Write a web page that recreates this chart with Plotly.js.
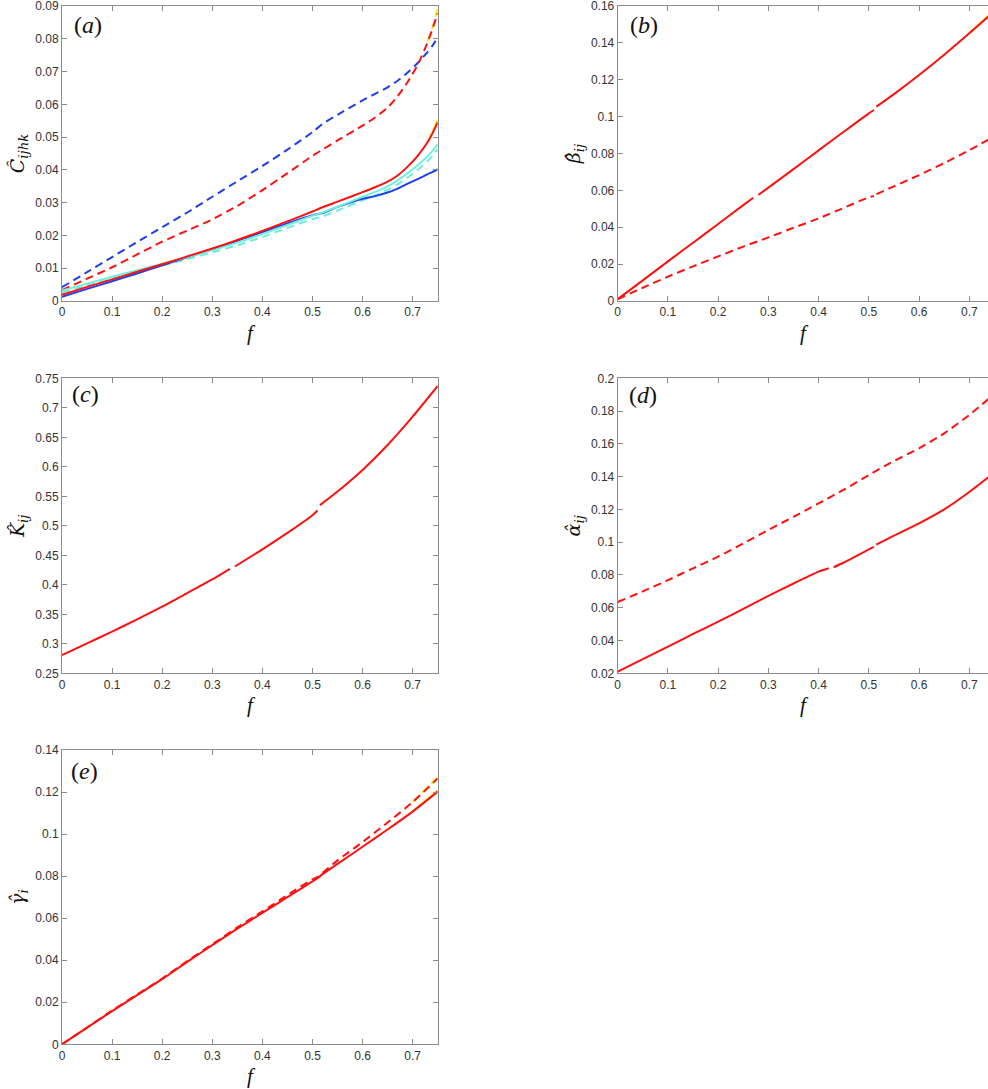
<!DOCTYPE html>
<html><head><meta charset="utf-8">
<script src="https://cdn.plot.ly/plotly-3.0.1.min.js"></script>
<style>html,body{margin:0;padding:0;background:#fff;overflow:hidden}</style>
</head><body><div id="chart" style="width:988px;height:1089px"></div>
<script>
// ---------- data ----------
const xTickVals = [0,0.1,0.2,0.3,0.4,0.5,0.6,0.7];
const xTickText = ['0','0.1','0.2','0.3','0.4','0.5','0.6','0.7'];

// panel (a)
const fA = [0,.05,.1,.15,.2,.25,.3,.35,.4,.45,.5,.52,.55,.6,.625,.65,.67,.69,.71,.73,.74,.75];
const blueDashA = [.0042,.0088,.0134,.0180,.0225,.0270,.0318,.0365,.0412,.0462,.0515,.0540,.0568,.0612,.0632,.0652,.0672,.0697,.0726,.0760,.0780,.0803];
const redDashA  = [.0033,.0068,.0103,.0142,.0181,.0215,.0249,.0290,.0338,.0390,.0443,.0462,.0490,.0535,.0560,.0590,.0625,.0668,.0720,.0790,.0832,.0878];
const cyanDashA = [.0026,.0047,.0068,.0088,.0108,.0128,.0148,.0170,.0195,.0223,.0250,.0258,.0276,.0307,.0322,.0339,.0356,.0377,.0400,.0427,.0444,.0463];
const blueSolidA= [.0013,.0037,.0060,.0084,.0109,.0133,.0158,.0184,.0210,.0237,.0262,.0268,.0287,.0312,.0320,.0331,.0343,.0358,.0372,.0387,.0394,.0402];
const cyanSolidA= [.0032,.0053,.0074,.0094,.0114,.0134,.0155,.0178,.0204,.0232,.0260,.0270,.0287,.0318,.0333,.0350,.0368,.0390,.0414,.0442,.0459,.0478];
const redSolidA = [.0019,.0043,.0066,.0089,.0112,.0136,.0160,.0186,.0214,.0243,.0273,.0286,.0303,.0332,.0347,.0364,.0383,.0410,.0443,.0485,.0513,.0545];
const fTipA = [.73,.74,.75];
const yellowSolidA = [.0487,.0516,.0553];
const yellowDashA  = [.0793,.0837,.0892];
const yTickA = [0,.01,.02,.03,.04,.05,.06,.07,.08,.09];
const yTextA = ['0','0.01','0.02','0.03','0.04','0.05','0.06','0.07','0.08','0.09'];

// panel (b)
const fBs = [0,.05,.1,.15,.2,.25,.27,.275,.28,.3,.35,.4,.45,.5,.51,.5125,.515,.55,.6,.65,.7,.75];
const redSolidB = [.001,.0112,.0215,.0316,.0418,.0520,.0560,null,.0575,.0615,.0715,.0817,.0918,.1018,.1036,null,.1054,.1122,.1226,.1336,.1452,.1572];
const fBd = [0,.05,.1,.15,.2,.25,.3,.35,.4,.45,.5,.51,.5125,.515,.55,.6,.65,.7,.75];
const redDashB = [.001,.0072,.0132,.0188,.0242,.0295,.0345,.0397,.0448,.0505,.0563,.0570,null,.0580,.0622,.0683,.0748,.0818,.0893];
const fTipB = [.7,.75];
const yellowSolidB = [.1454,.1577];
const yTickB = [0,.02,.04,.06,.08,.1,.12,.14,.16];
const yTextB = ['0','0.02','0.04','0.06','0.08','0.1','0.12','0.14','0.16'];

// panel (c)
const fC = [0,.05,.1,.15,.2,.25,.3,.335,.34,.345,.4,.45,.5,.51,.5125,.515,.55,.6,.65,.7,.75];
const redC = [.281,.3008,.3206,.3415,.363,.386,.409,.427,null,.431,.460,.488,.518,.526,null,.535,.558,.5946,.637,.685,.737];
const yTickC = [.25,.3,.35,.4,.45,.5,.55,.6,.65,.7,.75];
const yTextC = ['0.25','0.3','0.35','0.4','0.45','0.5','0.55','0.6','0.65','0.7','0.75'];

// panel (d)
const fDs = [0,.05,.1,.15,.2,.25,.3,.35,.4,.42,.425,.43,.45,.5,.51,.5125,.515,.55,.6,.65,.7,.75];
const redSolidD = [.021,.0287,.0363,.0440,.0515,.0593,.0672,.0748,.0820,.0841,null,.0847,.0876,.0956,.0972,null,.0985,.1040,.1115,.1200,.1306,.1425];
const fDd = [0,.05,.1,.13,.15,.2,.25,.3,.35,.4,.45,.5,.55,.6,.65,.7,.75];
const redDashD = [.0635,.0700,.0768,.0812,.0840,.0912,.0992,.1075,.1155,.1237,.1320,.1410,.1495,.1573,.1664,.1776,.1905];
const yTickD = [.02,.04,.06,.08,.1,.12,.14,.16,.18,.2];
const yTextD = ['0.02','0.04','0.06','0.08','0.1','0.12','0.14','0.16','0.18','0.2'];

// panel (e)
const fE = [0,.05,.1,.15,.2,.25,.3,.35,.4,.45,.5,.51,.515,.55,.6,.65,.7,.75];
const redSolidE = [0,.0079,.0158,.0234,.0310,.0392,.0472,.0550,.0625,.0700,.0775,.0790,.0800,.0858,.0940,.1022,.1107,.1202];
const redDashE  = [0,.0080,.0161,.0237,.0313,.0396,.0476,.0556,.0632,.0710,.0785,.0795,.0805,.0875,.0962,.1055,.1152,.1265];
const fTipE = [.7,.75];
const yellowSolidE = [.1109,.1207];
const yellowDashE  = [.1154,.1270];
const yTickE = [0,.02,.04,.06,.08,.1,.12,.14];
const yTextE = ['0','0.02','0.04','0.06','0.08','0.1','0.12','0.14'];

// ---------- styling ----------
const W = 988, H = 1089;
const RED = '#ff1010', BLUE = '#1f3fee', CYAN = '#70f0dc', YEL = '#f4ec00';
const DASH = '8px,5px';
const LW = 2;

function tr(x, y, color, dash, xa, ya) {
  return {x: x, y: y, type: 'scatter', mode: 'lines', xaxis: xa, yaxis: ya,
    line: {color: color, width: LW, dash: dash ? DASH : 'solid', shape: 'spline', smoothing: 0.6},
    connectgaps: false, hoverinfo: 'skip', showlegend: false};
}

const data = [
  tr(fA, blueDashA, BLUE, true, 'x', 'y'),
  tr(fTipA, yellowDashA, YEL, true, 'x', 'y'),
  tr(fA, redDashA, RED, true, 'x', 'y'),
  tr(fA, cyanDashA, CYAN, true, 'x', 'y'),
  tr(fA, blueSolidA, BLUE, false, 'x', 'y'),
  tr(fA, cyanSolidA, CYAN, false, 'x', 'y'),
  tr(fTipA, yellowSolidA, YEL, false, 'x', 'y'),
  tr(fA, redSolidA, RED, false, 'x', 'y'),

  tr(fTipB, yellowSolidB, YEL, false, 'x2', 'y2'),
  tr(fBs, redSolidB, RED, false, 'x2', 'y2'),
  tr(fBd, redDashB, RED, true, 'x2', 'y2'),

  tr(fC, redC, RED, false, 'x3', 'y3'),

  tr(fDs, redSolidD, RED, false, 'x4', 'y4'),
  tr(fDd, redDashD, RED, true, 'x4', 'y4'),

  tr(fTipE, yellowSolidE, YEL, false, 'x5', 'y5'),
  tr(fTipE, yellowDashE, YEL, true, 'x5', 'y5'),
  tr(fE, redSolidE, RED, false, 'x5', 'y5'),
  tr(fE, redDashE, RED, true, 'x5', 'y5')
];

const AXC = '#8c8c8c';
const tickFont = {family: 'Liberation Sans, Arial, sans-serif', size: 12, color: '#333'};
const titleFont = {family: 'DejaVu Serif, serif', size: 19, color: '#111'};

function xax(domain, range, anchor, mirror) {
  return {domain: domain, range: range, anchor: anchor,
    tickmode: 'array', tickvals: xTickVals, ticktext: xTickText,
    ticks: 'inside', ticklen: 5, tickcolor: AXC, tickwidth: 1,
    showline: true, linecolor: AXC, linewidth: 1, mirror: mirror,
    zeroline: false, showgrid: false, tickfont: tickFont, fixedrange: true,
    ticklabeloverflow: 'allow',
    title: {text: '<i>f</i>', font: {family: 'Liberation Serif, Times New Roman, serif', size: 21, color: '#111'}, standoff: 6}};
}
function yax(domain, range, anchor, vals, text, title, mirror) {
  return {domain: domain, range: range, anchor: anchor,
    tickmode: 'array', tickvals: vals, ticktext: text,
    ticks: 'inside', ticklen: 5, tickcolor: AXC, tickwidth: 1,
    showline: true, linecolor: AXC, linewidth: 1, mirror: mirror,
    zeroline: false, showgrid: false, tickfont: tickFont, fixedrange: true,
    ticklabeloverflow: 'allow',
    title: {text: title, font: titleFont, standoff: 5}};
}

const xL = [62/W, 437.7/W];
const xR = [617.7/W, 1];
const r1 = [1-301/H, 1-6/H];
const r2 = [1-673.3/H, 1-378.3/H];
const r3 = [1-1044.3/H, 1-750/H];
const RX = [0, 0.7372];

function lab(t, px, py) {
  return {text: '(<i>' + t + '</i>)', xref: 'paper', yref: 'paper', x: px/W, y: 1-py/H,
    xanchor: 'left', yanchor: 'middle', showarrow: false,
    font: {family: 'Liberation Serif, Times New Roman, serif', size: 24, color: '#111'}};
}

const layout = {
  width: W, height: H, margin: {l: 0, r: 0, t: 0, b: 0},
  paper_bgcolor: '#fff', plot_bgcolor: '#fff', showlegend: false,
  xaxis:  xax(xL, [0, 0.75], 'y', 'ticks'),
  yaxis:  yax(r1, [0, 0.09], 'x', yTickA, yTextA, '<i>Ĉ<sub>ijhk</sub></i>', 'ticks'),
  xaxis2: xax(xR, RX, 'y2', 'ticks'),
  yaxis2: yax(r1, [0, 0.16], 'x2', yTickB, yTextB, '<i>β̂<sub>ij</sub></i>', false),
  xaxis3: xax(xL, [0, 0.75], 'y3', 'ticks'),
  yaxis3: yax(r2, [0.25, 0.75], 'x3', yTickC, yTextC, '<i>K̂<sub>ij</sub></i>', 'ticks'),
  xaxis4: xax(xR, RX, 'y4', 'ticks'),
  yaxis4: yax(r2, [0.02, 0.2], 'x4', yTickD, yTextD, '<i>α̂<sub>ij</sub></i>', false),
  xaxis5: xax(xL, [0, 0.75], 'y5', 'ticks'),
  yaxis5: yax(r3, [0, 0.14], 'x5', yTickE, yTextE, '<i>γ̂<sub>i</sub></i>', 'ticks'),
  annotations: [
    lab('a', 72, 25), lab('b', 628, 25),
    lab('c', 70, 394), lab('d', 627, 395),
    lab('e', 69, 771)
  ]
};

Plotly.newPlot('chart', data, layout, {displayModeBar: false, staticPlot: true});
</script></body></html>
